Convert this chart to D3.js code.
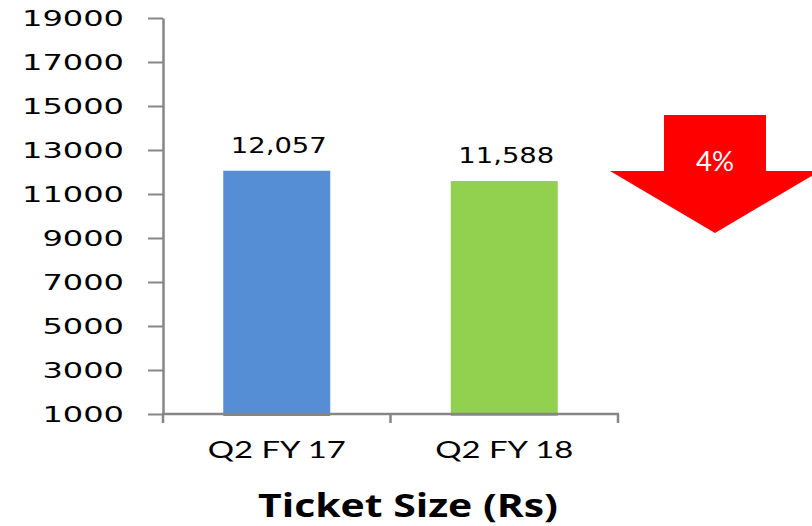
<!DOCTYPE html>
<html><head><meta charset="utf-8">
<script src="https://cdn.jsdelivr.net/npm/d3@7/dist/d3.min.js"></script>
<style>body{margin:0;background:#fff}svg{display:block}</style>
</head><body>
<script>
const categories = ["Q2 FY 17", "Q2 FY 18"];
const values = [12057, 11588];
const valueLabels = ["12,057", "11,588"];
const colors = ["#558ED5", "#92D050"];
const yTicks = [1000, 3000, 5000, 7000, 9000, 11000, 13000, 15000, 17000, 19000];
const changeLabel = "4%";
const title = "Ticket Size (Rs)";

const W = 812, H = 526;
const svg = d3.select("body").append("svg").attr("width", W).attr("height", H);
const axisColor = "#868686";

const y = d3.scaleLinear().domain([1000, 19000]).range([414, 18]);
const x = d3.scaleBand().domain(categories).range([163, 618]).padding(0);
const barW = 107;

// bars
svg.selectAll("rect.bar").data(values).join("rect")
  .attr("x", (d, i) => x(categories[i]) + (x.bandwidth() - barW) / 2)
  .attr("y", d => y(d))
  .attr("width", barW)
  .attr("height", d => y(1000) - y(d) + 2)
  .attr("fill", (d, i) => colors[i]);

// y axis
const ya = svg.append("g").attr("transform", "translate(163,0)")
  .call(d3.axisLeft(y).tickValues(yTicks).tickSize(15).tickSizeOuter(0).tickFormat(d3.format("d")));
ya.select(".domain").attr("stroke", axisColor).attr("stroke-width", 2.5);
ya.selectAll(".tick line").attr("stroke", axisColor).attr("stroke-width", 2);
ya.selectAll(".tick text")
  .attr("x", -39).attr("dy", "0.36em")
  .attr("font-family", "DejaVu Sans").attr("font-size", 21).attr("fill", "#000")
  .attr("textLength", d => String(d).length * 20.4).attr("lengthAdjust", "spacingAndGlyphs");

// x axis
const xa = svg.append("g").attr("transform", "translate(0,414)");
xa.append("line").attr("x1", 162).attr("x2", 619).attr("y1", 0).attr("y2", 0)
  .attr("stroke", axisColor).attr("stroke-width", 2.5);
const xTickPos = [x.range()[0], ...categories.slice(1).map(c => x(c)), x.range()[1]];
xa.selectAll("line.t").data(xTickPos).join("line")
  .attr("x1", d => d).attr("x2", d => d).attr("y1", 0).attr("y2", 9)
  .attr("stroke", axisColor).attr("stroke-width", 2.5);
xa.selectAll("text").data(categories).join("text")
  .attr("x", d => x(d) + x.bandwidth() / 2).attr("y", 44)
  .attr("text-anchor", "middle")
  .attr("font-family", "Lato").attr("font-size", 23).attr("fill", "#000")
  .attr("textLength", 138).attr("lengthAdjust", "spacingAndGlyphs")
  .text(d => d);

// value labels
svg.selectAll("text.vl").data(values).join("text")
  .attr("x", (d, i) => x(categories[i]) + x.bandwidth() / 2 + 2)
  .attr("y", d => y(d) - 18)
  .attr("text-anchor", "middle")
  .attr("font-family", "DejaVu Sans").attr("font-size", 22).attr("fill", "#000")
  .attr("textLength", 96).attr("lengthAdjust", "spacingAndGlyphs")
  .text((d, i) => valueLabels[i]);

// arrow
const ax = 715;
svg.append("path")
  .attr("d", `M${ax-51},115 L${ax+51},115 L${ax+51},171 L${ax+105},171 L${ax},233 L${ax-105},171 L${ax-51},171 Z`)
  .attr("fill", "#FF0000");
svg.append("text").attr("x", ax).attr("y", 171).attr("text-anchor", "middle")
  .attr("font-family", "Lato").attr("font-size", 27).attr("fill", "#fff")
  .attr("textLength", 38).attr("lengthAdjust", "spacingAndGlyphs")
  .text(changeLabel);

// title
svg.append("text").attr("x", 408).attr("y", 517).attr("text-anchor", "middle")
  .attr("font-family", "Open Sans").attr("font-weight", "bold").attr("font-size", 33).attr("fill", "#000")
  .attr("textLength", 300).attr("lengthAdjust", "spacingAndGlyphs")
  .text(title);
</script>
</body></html>
